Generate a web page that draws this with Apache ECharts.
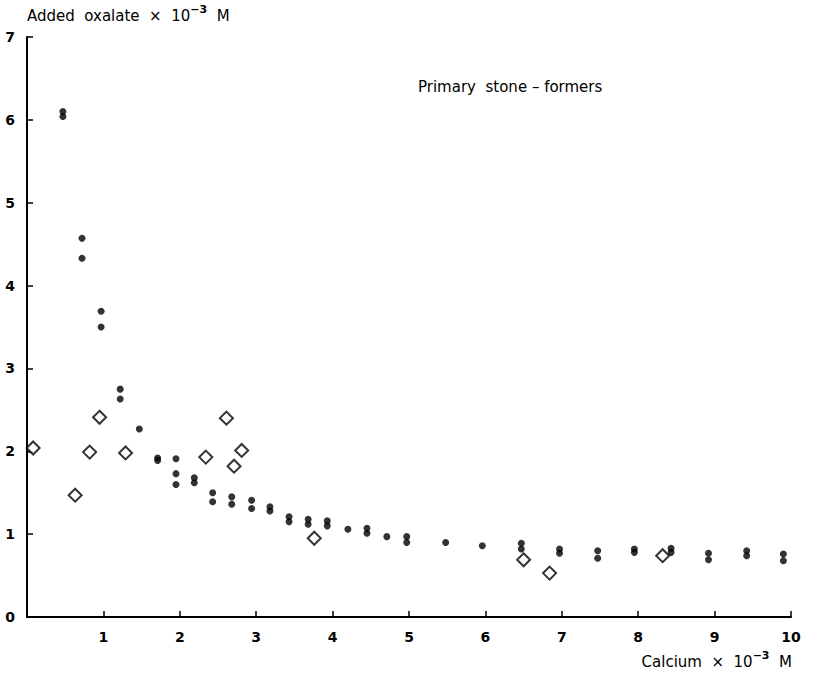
<!DOCTYPE html>
<html>
<head>
<meta charset="utf-8">
<script src="https://cdn.jsdelivr.net/npm/echarts@6/dist/echarts.min.js"></script>
<style>html,body{margin:0;padding:0;background:#fff}#c{width:830px;height:679px}</style>
</head>
<body>
<div id="c"></div>
<script>
// Filled circles: [calcium, added oxalate]
const stoneFormersX = [0.47,0.47,0.72,0.72,0.97,0.97,1.22,1.22,1.47,1.71,1.71,1.95,1.95,1.95,2.19,2.19,2.43,2.43,2.68,2.68,2.94,2.94,3.18,3.18,3.43,3.43,3.68,3.68,3.93,3.93,4.2,4.45,4.45,4.71,4.97,4.97,5.48,5.96,6.47,6.47,6.97,6.97,7.47,7.47,7.95,7.95,8.43,8.43,8.92,8.92,9.42,9.42,9.9,9.9];
const stoneFormersY = [6.04,6.1,4.57,4.33,3.69,3.50,2.75,2.63,2.27,1.89,1.92,1.91,1.73,1.60,1.68,1.62,1.50,1.39,1.45,1.36,1.41,1.31,1.33,1.28,1.21,1.15,1.18,1.12,1.16,1.10,1.06,1.07,1.01,0.97,0.97,0.90,0.90,0.86,0.89,0.82,0.82,0.77,0.80,0.71,0.82,0.78,0.83,0.78,0.77,0.69,0.80,0.74,0.76,0.68];
// Open diamonds
const diamondX = [0.08,0.63,0.95,0.82,1.29,2.34,2.61,2.81,2.71,3.76,6.5,6.84,8.32];
const diamondY = [2.04,1.47,2.41,1.99,1.98,1.93,2.40,2.01,1.82,0.95,0.69,0.53,0.74];
const xTicks = [0,1,2,3,4,5,6,7,8,9,10];
const yTicks = [0,1,2,3,4,5,6,7];

const font = 'DejaVu Sans';
const richSup = {
  n: {fontFamily: font, fontSize: 15, color: '#000', verticalAlign: 'bottom'},
  s: {fontFamily: font, fontSize: 11, fontWeight: 'bold', color: '#000', padding: [0,0,8,0], verticalAlign: 'bottom'}
};
const chart = echarts.init(document.getElementById('c'), null, {renderer: 'svg'});
chart.setOption({
  backgroundColor: '#fff',
  animation: false,
  grid: {left: 27, right: 39, top: 37, bottom: 62},
  xAxis: {
    type: 'value', min: 0, max: 10, interval: 1,
    axisLine: {lineStyle: {color: '#000', width: 2}},
    axisTick: {inside: true, length: 6, lineStyle: {color: '#000', width: 1.5}},
    axisLabel: {color: '#000', fontFamily: font, fontSize: 14, fontWeight: 'bold', margin: 13,
      formatter: v => (v === 0 ? '' : String(v))},
    splitLine: {show: false}
  },
  yAxis: {
    type: 'value', min: 0, max: 7, interval: 1,
    name: '{n|Added  oxalate  ×  10}{s|−3}{n|  M}',
    nameLocation: 'end', nameGap: 14,
    nameTextStyle: {color: '#000', fontFamily: font, fontSize: 15, align: 'left', rich: richSup},
    axisLine: {lineStyle: {color: '#000', width: 2}},
    axisTick: {inside: true, length: 6, lineStyle: {color: '#000', width: 1.5}},
    axisLabel: {color: '#000', fontFamily: font, fontSize: 14, fontWeight: 'bold', margin: 12,
      formatter: v => String(v)},
    splitLine: {show: false}
  },
  graphic: [
    {type: 'text', right: 38, top: 650, style: {text: '{n|Calcium  ×  10}{s|−3}{n|  M}', rich: richSup}},
    {type: 'text', left: 418, top: 79, style: {text: 'Primary  stone – formers', fill: '#000', font: '15px "DejaVu Sans"'}}
  ],
  series: [
    {type: 'scatter', symbol: 'circle', symbolSize: 7,
      itemStyle: {color: '#000'},
      data: stoneFormersX.map((x, i) => [x, stoneFormersY[i]])},
    {type: 'scatter', symbol: 'diamond', symbolSize: 13,
      itemStyle: {color: '#fff', borderColor: '#000', borderWidth: 2},
      data: diamondX.map((x, i) => [x, diamondY[i]])}
  ]
});
</script>
</body>
</html>
